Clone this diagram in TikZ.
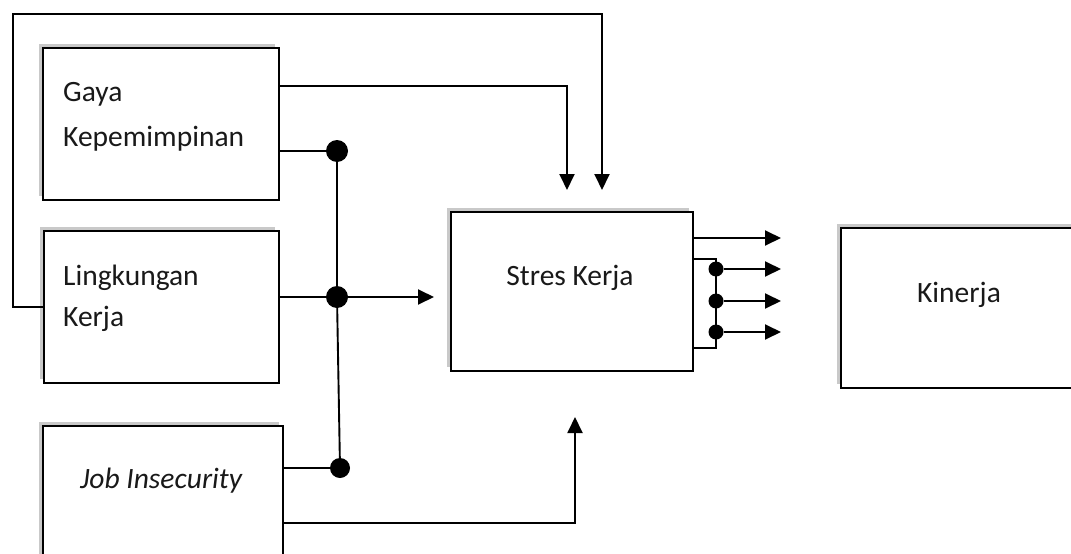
\documentclass[tikz,border=0pt]{standalone}
\usepackage{fontspec}
\setmainfont{Carlito}
\usetikzlibrary{arrows.meta,shadows}
\begin{document}
\begin{tikzpicture}[x=1pt,y=-1pt,
  box/.style={draw=black,line width=1.6pt,fill=white,rectangle,inner sep=0pt,
    drop shadow={shadow xshift=-4pt,shadow yshift=4pt,fill=black!35,opacity=0.6}},
  lbl/.style={font=\fontsize{29.5}{31}\selectfont,text=black!90,inner sep=0pt},
  conn/.style={line width=1.9pt,draw=black},
  arr/.style={conn,-{Triangle[length=16pt,width=15pt]}},
  dotbig/.style={circle,fill=black,inner sep=0pt,minimum size=22pt},
  dotsmall/.style={circle,fill=black,inner sep=0pt,minimum size=15pt}]
\useasboundingbox (0,0) rectangle (1071,554);
\clip (0,0) rectangle (1071,554);
\fill[white] (0,0) rectangle (1071,554);

% boxes
\node[box,minimum width=236pt,minimum height=152pt] (gaya) at (161,124) {};
\node[box,minimum width=235pt,minimum height=152pt] (ling) at (161.5,307) {};
\node[box,minimum width=240pt,minimum height=170pt] (job) at (163,511) {};
\node[box,minimum width=242pt,minimum height=159pt] (stres) at (572,291.5) {};
\node[box,minimum width=250pt,minimum height=160pt] (kin) at (966,308) {};

% labels
\node[lbl,anchor=base west] (tgaya1) at (63,101) {Gaya};
\node[lbl,anchor=base west] (tgaya2) at (63,146) {Kepemimpinan};
\node[lbl,anchor=base west] (tling1) at (63,285) {Lingkungan};
\node[lbl,anchor=base west] (tling2) at (63,326) {Kerja};
\node[lbl,anchor=base] (tjob) at (161,488) {\itshape Job Insecurity};
\node[lbl,anchor=base] (tstres) at (570,285) {Stres Kerja};
\node[lbl,anchor=base] (tkin) at (959,302) {Kinerja};

% junction dots
\node[dotbig] (d1) at (337,151) {};
\node[dotbig] (d2) at (337,297) {};
\node[dotbig,minimum size=20pt] (d3) at (340,468) {};
\node[dotsmall] (r1) at (716,269) {};
\node[dotsmall] (r2) at (716,301) {};
\node[dotsmall] (r3) at (716,332) {};

% free ends
\coordinate (a1) at (567,190);
\coordinate (a2) at (602,190);
\coordinate (a3) at (434,297);
\coordinate (a4) at (575,417);
\coordinate (e0) at (781,238);
\coordinate (e1) at (781,269);
\coordinate (e2) at (781,301);
\coordinate (e3) at (781,332);

% outer loop from Lingkungan Kerja
\draw[arr] (ling.west |- 0,307) -- (13,307) -- (13,14) -- (602,14) -- (a2);
% Gaya top line
\draw[arr] (gaya.east |- 0,86) -- (567,86) -- (a1);
% junction bus
\draw[conn] (gaya.east |- d1) -- (d1);
\draw[conn] (ling.east |- d2) -- (d2);
\draw[conn] (job.east |- d3) -- (d3);
\draw[conn] (d1) -- (d2) -- (d3);
\draw[arr] (d2) -- (a3);
% Job bottom line
\draw[arr] (job.east |- 0,523) -- (575,523) -- (a4);
% Stres outputs
\draw[arr] (stres.east |- e0) -- (e0);
\draw[conn] (stres.east |- 0,259) -- (716,259) -- (716,348) -- (stres.east |- 0,348);
\draw[arr] (r1) -- (e1);
\draw[arr] (r2) -- (e2);
\draw[arr] (r3) -- (e3);
\end{tikzpicture}
\end{document}
